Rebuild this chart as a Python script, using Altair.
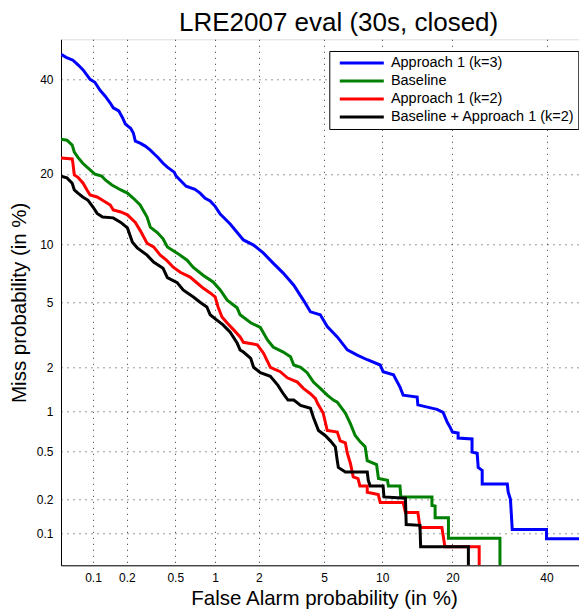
import altair as alt
import pandas as pd
from statistics import NormalDist

# ---------------- data (percent values) ----------------
series_names = ["Approach 1 (k=3)", "Baseline", "Approach 1 (k=2)", "Baseline + Approach 1 (k=2)"]
series_colors = ["#0000ff", "#008000", "#ff0000", "#000000"]

fa_k3 = [0.05, 0.056, 0.065, 0.073, 0.081, 0.094, 0.104, 0.116, 0.129, 0.143, 0.152, 0.17, 0.184, 0.194,
         0.215, 0.227, 0.236, 0.259, 0.286, 0.315, 0.341, 0.367, 0.4, 0.433, 0.49, 0.508, 0.547, 0.607,
         0.709, 0.775, 0.845, 0.92, 1.0, 1.088, 1.28, 1.58, 1.85, 2.15, 2.48, 2.87, 3.33, 3.8, 4.18, 4.76,
         5.21, 5.91, 6.69, 7.53, 8.46, 9.79, 10.1, 11.3, 12.1, 12.5, 14.4, 14.5, 15.9, 17.4, 18.4, 19.1,
         19.6, 20.0, 21.0, 21.0, 23.6, 23.6, 24.6, 24.8, 25.6, 25.6, 30.9, 31.1, 31.6, 32.0, 40.0, 40.0, 50.0]
miss_k3 = [46.3, 45.5, 44.8, 43.6, 42.4, 40.1, 39.4, 37.5, 36.1, 34.5, 33.4, 32.7, 31.1, 29.8,
           28.9, 27.9, 26.2, 25.8, 25.2, 24.4, 23.6, 22.9, 21.9, 21.2, 20.3, 19.6, 18.9, 17.9,
           17.4, 16.8, 16.0, 15.6, 14.8, 13.7, 12.4, 10.47, 9.9, 9.05, 8.07, 7.18, 6.2, 5.14, 4.41, 4.24,
           3.62, 3.13, 2.6, 2.41, 2.25, 2.08, 1.88, 1.79, 1.48, 1.3, 1.26, 1.11, 1.07, 1.03, 0.98, 0.83,
           0.76, 0.70, 0.69, 0.63, 0.62, 0.49, 0.48, 0.37, 0.35, 0.27, 0.27, 0.23, 0.2, 0.108, 0.108, 0.089, 0.089]

fa_base = [0.05, 0.057, 0.064, 0.067, 0.0725, 0.0804, 0.094, 0.104, 0.12, 0.13, 0.148, 0.177, 0.202, 0.227,
           0.259, 0.296, 0.315, 0.361, 0.4, 0.433, 0.518, 0.618, 0.686, 0.816, 0.967, 1.088, 1.22, 1.43,
           1.5, 1.77, 2.05, 2.28, 2.48, 2.87, 3.18, 3.33, 3.66, 4.0, 4.35, 4.76, 5.21, 5.63, 5.91, 6.53,
           6.94, 7.35, 7.8, 8.26, 8.46, 9.4, 9.6, 10.6, 10.7, 12.1, 12.2, 16.6, 16.6, 17.1, 17.1, 19.3,
           19.3, 29.3, 29.3]
miss_base = [26.6, 26.4, 25.4, 24.0, 23.0, 21.9, 20.7, 19.95, 19.6, 18.9, 18.1, 17.3, 16.8, 16.0,
             15.0, 13.3, 12.0, 11.3, 10.6, 9.7, 9.05, 8.35, 7.7, 7.0, 6.45, 5.84, 5.14, 4.65,
             4.24, 3.81, 3.57, 3.0, 2.71, 2.52, 2.35, 2.08, 2.01, 1.85, 1.6, 1.45, 1.3, 1.2, 1.16, 0.97,
             0.81, 0.66, 0.59, 0.54, 0.42, 0.39, 0.3, 0.29, 0.26, 0.26, 0.21, 0.21, 0.177, 0.175, 0.138, 0.138,
             0.09, 0.09, 0.05]

fa_k2 = [0.05, 0.064, 0.065, 0.067, 0.0725, 0.081, 0.088, 0.094, 0.109, 0.122, 0.143, 0.152, 0.177, 0.202,
         0.236, 0.259, 0.296, 0.335, 0.38, 0.426, 0.482, 0.547, 0.652, 0.736, 0.816, 0.92, 1.0, 1.05,
         1.12, 1.22, 1.37, 1.5, 1.58, 1.96, 2.15, 2.38, 2.75, 3.04, 3.5, 3.8, 4.18, 4.47, 4.59, 4.94,
         5.21, 5.91, 6.13, 6.53, 6.69, 6.94, 7.18, 7.6, 7.77, 8.46, 8.46, 9.58, 9.79, 12.5, 12.8, 14.5,
         14.8, 18.2, 18.4, 18.7, 25.0, 25.0]
miss_k2 = [22.9, 22.7, 21.9, 19.8, 19.4, 18.4, 17.3, 16.5, 16.2, 15.7, 15.0, 14.3, 14.0, 13.6,
           12.6, 11.6, 10.1, 9.7, 8.85, 8.35, 7.7, 7.25, 6.84, 6.37, 5.98, 5.63, 5.35, 4.7,
           4.12, 3.8, 3.42, 3.13, 2.9, 2.8, 2.48, 2.01, 1.88, 1.71, 1.6, 1.45, 1.33, 1.23, 1.14, 0.97,
           0.72, 0.7, 0.6, 0.58, 0.48, 0.4, 0.31, 0.3, 0.26, 0.26, 0.23, 0.22, 0.188, 0.188, 0.154, 0.154,
           0.113, 0.113, 0.096, 0.075, 0.075, 0.05]

fa_comb = [0.05, 0.057, 0.064, 0.067, 0.0725, 0.0804, 0.09, 0.1, 0.109, 0.122, 0.152, 0.177, 0.202, 0.223,
           0.245, 0.296, 0.335, 0.4, 0.433, 0.518, 0.576, 0.69, 0.775, 0.87, 0.92, 1.03, 1.14, 1.28,
           1.43, 1.5, 1.58, 1.77, 1.85, 2.05, 2.38, 2.66, 2.87, 3.07, 3.33, 3.66, 4.18, 4.35, 4.65, 5.07,
           5.42, 5.77, 5.91, 5.99, 6.53, 8.46, 8.56, 8.75, 10.1, 10.2, 12.8, 12.9, 14.8, 14.9, 22.9, 22.9]
miss_comb = [19.6, 19.3, 18.4, 17.3, 16.8, 16.2, 15.7, 14.7, 13.8, 13.3, 13.2, 12.6, 11.9, 10.2,
             9.6, 8.85, 8.17, 7.6, 6.8, 6.4, 5.84, 5.35, 5.0, 4.7, 4.24, 3.95, 3.7, 3.35,
             2.87, 2.6, 2.52, 2.3, 2.01, 1.85, 1.75, 1.52, 1.33, 1.2, 1.2, 1.1, 1.05, 0.9, 0.72, 0.66,
             0.6, 0.54, 0.42, 0.37, 0.34, 0.34, 0.29, 0.26, 0.26, 0.21, 0.205, 0.12, 0.118, 0.075, 0.075, 0.05]

tick_pcts = [0.1, 0.2, 0.5, 1, 2, 5, 10, 20, 40]
tick_labels = ["0.1", "0.2", "0.5", "1", "2", "5", "10", "20", "40"]
# visible limits of the (cropped) axes, in percent
x_min_pct, x_max_pct = 0.05, 48.0
y_min_pct, y_max_pct = 0.05, 50.0

# ---------------- probit (normal deviate) transform ----------------
ND = NormalDist()


def probit(pct):
    return ND.inv_cdf(pct / 100.0)


rows = []
for name, fa, miss in zip(series_names,
                          [fa_k3, fa_base, fa_k2, fa_comb],
                          [miss_k3, miss_base, miss_k2, miss_comb]):
    for i, (f, m) in enumerate(zip(fa, miss)):
        rows.append({"system": name, "idx": i, "fa": f, "miss": m,
                     "zx": probit(f), "zy": probit(m)})
df = pd.DataFrame(rows)

tick_z = [probit(p) for p in tick_pcts]
label_expr = ""
for z, lab in zip(tick_z, tick_labels):
    label_expr += f"abs(datum.value - ({z:.6f})) < 0.001 ? '{lab}' : "
label_expr += "''"

FONT = "Liberation Sans"
PX_PER_UNIT = 159.8
x_lo, x_hi = probit(x_min_pct), probit(x_max_pct)
y_lo, y_hi = probit(y_min_pct), probit(y_max_pct)
W = round((x_hi - x_lo) * PX_PER_UNIT)
H = round((y_hi - y_lo) * PX_PER_UNIT)

common_axis = dict(
    values=tick_z, labelExpr=label_expr, grid=True, gridDash=[1, 5], gridColor="#333",
    gridWidth=1, domainColor="#000", domainWidth=1, ticks=False, tickSize=0,
    labelFont=FONT, labelFontSize=12, labelColor="#000",
    titleFont=FONT, titleFontSize=20.5, titleFontWeight="normal", titleColor="#000",
    titleBaseline="alphabetic", titleAlign="center",
)

x_axis = alt.Axis(title="False Alarm probability (in %)", labelPadding=7.5,
                  titleX=263, titleY=39.5, **common_axis)
y_axis = alt.Axis(title="Miss probability (in %)", labelPadding=8, titleAngle=270,
                  titleX=-35.5, titleY=H / 2, **common_axis)

legend = alt.Legend(title=None, orient="none", legendX=268.3, legendY=11.7,
                    symbolType="stroke", symbolSize=1936, symbolStrokeWidth=3,
                    clipHeight=17.9, rowPadding=0, labelFont=FONT, labelFontSize=14.5,
                    labelColor="#000", labelOffset=5.6, labelLimit=400, padding=3,
                    symbolOffset=6, strokeColor="#000", fillColor="#ffffff")

chart = alt.Chart(df).mark_line(strokeWidth=3, clip=True).encode(
    x=alt.X("zx:Q", scale=alt.Scale(domain=[x_lo, x_hi], nice=False, zero=False), axis=x_axis),
    y=alt.Y("zy:Q", scale=alt.Scale(domain=[y_lo, y_hi], nice=False, zero=False), axis=y_axis),
    color=alt.Color("system:N", scale=alt.Scale(domain=series_names, range=series_colors), legend=legend),
    order=alt.Order("idx:Q"),
).properties(
    width=W, height=H,
    title=alt.TitleParams(text="LRE2007 eval (30s, closed)", font=FONT, fontSize=26,
                          fontWeight="normal", color="#000", anchor="start", frame="group",
                          dx=118, dy=27.5, offset=9.8, baseline="alphabetic"),
    autosize=alt.AutoSizeParams(type="none"),
    padding={"left": 53, "top": 31.3, "right": 0, "bottom": 44},
).configure_view(stroke=None).configure(background="#ffffff")

chart.save("out.html", embed_options={"renderer": "svg", "actions": False})
